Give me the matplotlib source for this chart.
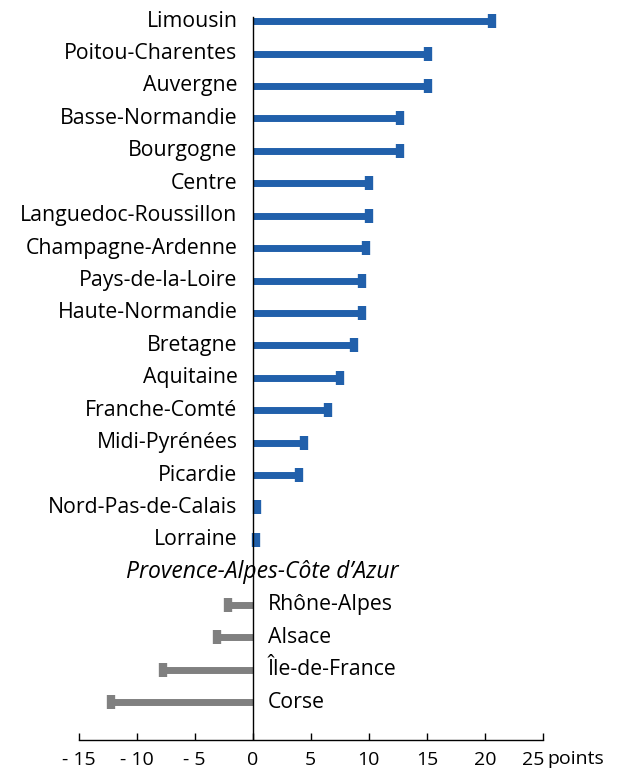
import matplotlib.pyplot as plt
import matplotlib
import matplotlib.transforms as mtransforms
import numpy as np

matplotlib.rcParams['font.family'] = ['Open Sans', 'DejaVu Sans']

regions_pos = ["Limousin", "Poitou-Charentes", "Auvergne", "Basse-Normandie", "Bourgogne",
               "Centre", "Languedoc-Roussillon", "Champagne-Ardenne", "Pays-de-la-Loire",
               "Haute-Normandie", "Bretagne", "Aquitaine", "Franche-Comté", "Midi-Pyrénées",
               "Picardie", "Nord-Pas-de-Calais", "Lorraine"]
values_pos = [20.6, 15.1, 15.1, 12.7, 12.7, 10.0, 10.0, 9.8, 9.4, 9.4, 8.7, 7.5, 6.5, 4.4, 4.0, 0.4, 0.3]
region_zero = "Provence-Alpes-Côte d’Azur"
regions_neg = ["Rhône-Alpes", "Alsace", "Île-de-France", "Corse"]
values_neg = [-2.1, -3.1, -7.7, -12.2]
xticks = [-15, -10, -5, 0, 5, 10, 15, 20, 25]
xtick_labels = ["- 15", "- 10", "- 5", "0", "5", "10", "15", "20", "25"]

blue = "#2160ab"
gray = "#808080"
fs = 15.3

fig = plt.figure(figsize=(6.17, 7.69), dpi=100)
ax = fig.add_axes([78.5 / 617, 29 / 769, 464.5 / 617, 728 / 769])

n_pos = len(regions_pos)
y_pos = np.arange(n_pos)
y_zero = n_pos
y_neg = np.arange(n_pos + 1, n_pos + 1 + len(regions_neg))

for y, v in zip(y_pos, values_pos):
    ax.plot([0, v], [y, y], color=blue, lw=5, solid_capstyle='butt')
    ax.plot([v], [y], marker='|', color=blue, ms=9.5, mew=6)
    ax.annotate(regions_pos[y], (0, y), xytext=(-11, 0), textcoords='offset points',
                ha='right', va='center', fontsize=fs)

ax.annotate(region_zero, (0.8, y_zero), ha='center', va='center', fontsize=16.5, style='italic')

for i, (y, v) in enumerate(zip(y_neg, values_neg)):
    ax.plot([0, v], [y, y], color=gray, lw=5, solid_capstyle='butt')
    ax.plot([v], [y], marker='|', color=gray, ms=9.5, mew=6)
    ax.annotate(regions_neg[i], (0, y), xytext=(11, 0), textcoords='offset points',
                ha='left', va='center', fontsize=fs)

ax.axvline(0, ymax=0.993, color='black', lw=1)
ax.set_xlim(-15, 25)
ax.set_ylim(22.17, -0.28)
ax.set_yticks([])
ax.set_xticks(xticks)
ax.set_xticklabels(xtick_labels, fontsize=14)
ax.tick_params(axis='x', direction='in', length=5, width=1, pad=8)
for s in ['top', 'right', 'left']:
    ax.spines[s].set_visible(False)
ax.spines['bottom'].set_linewidth(1)

# "25" sits a bit left of its tick, followed by the unit
lab25 = ax.get_xticklabels()[-1]
lab25.set_transform(lab25.get_transform() + mtransforms.ScaledTranslation(-0.1, 0, fig.dpi_scale_trans))
ax.annotate("points", (25, 0), xycoords=('data', 'axes fraction'), xytext=(3.5, -13.5),
            textcoords='offset points', ha='left', va='center', fontsize=14)

fig.savefig("out.png", dpi=100)
